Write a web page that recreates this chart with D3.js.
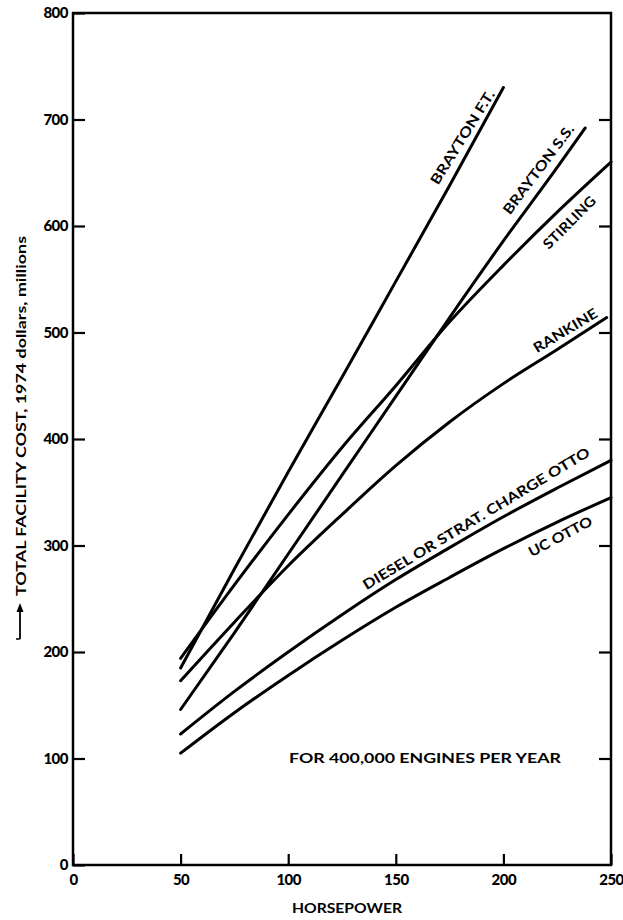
<!DOCTYPE html>
<html><head><meta charset="utf-8">
<script src="https://cdn.jsdelivr.net/npm/d3@7"></script>
<style>body{margin:0;background:#fff}</style>
</head><body>
<svg id="c" width="623" height="920"></svg>
<script>
// ---- data ----
const hpFull = [50, 75, 100, 125, 150, 175, 200, 225, 250];
const hpBraytonFT = [50, 75, 100, 125, 150, 175, 200];
const braytonFT = [185, 278, 369, 458, 548, 638, 730];
const hpBraytonSS = [50, 75, 100, 125, 150, 175, 200, 225, 238];
const braytonSS = [146, 218, 292, 366, 440, 514, 586, 655, 692];
const stirling = [194, 263, 329, 392, 450, 510, 563, 613, 660];
const hpRankine = [50, 75, 100, 125, 150, 175, 200, 225, 248];
const rankine = [173, 228, 281, 329, 375, 416, 452, 484, 514];
const diesel = [123, 163, 200, 235, 268, 298, 327, 354, 380];
const ucOtto = [105, 143, 178, 211, 242, 270, 297, 322, 345];
const seriesNames = ["BRAYTON F.T.", "BRAYTON S.S.", "STIRLING", "RANKINE", "DIESEL OR STRAT. CHARGE OTTO", "UC OTTO"];
const xTicks = [0, 50, 100, 150, 200, 250];
const yTicks = [0, 100, 200, 300, 400, 500, 600, 700, 800];
const xTitle = "HORSEPOWER";
const yTitle = "TOTAL FACILITY COST, 1974 dollars, millions";
const note = "FOR 400,000 ENGINES PER YEAR";

const series = [
  {name: seriesNames[0], hp: hpBraytonFT, v: braytonFT},
  {name: seriesNames[1], hp: hpBraytonSS, v: braytonSS},
  {name: seriesNames[2], hp: hpFull, v: stirling},
  {name: seriesNames[3], hp: hpRankine, v: rankine},
  {name: seriesNames[4], hp: hpFull, v: diesel},
  {name: seriesNames[5], hp: hpFull, v: ucOtto}
].map(s => ({name: s.name, pts: s.hp.map((h, i) => [h, s.v[i]])}));

// ---- layout ----
const L = 73, R = 611, T = 13, B = 865;
const FONT = "Lato, 'DejaVu Sans', sans-serif";
const svg = d3.select("#c");
const x = d3.scaleLinear().domain([0, 250]).range([L, R]);
const y = d3.scaleLinear().domain([0, 800]).range([B, T]);

// frame
svg.append("rect").attr("x", L).attr("y", T).attr("width", R - L).attr("height", B - T)
  .attr("fill", "none").attr("stroke", "#000").attr("stroke-width", 2.5);

function styleAxis(g) {
  g.select(".domain").remove();
  g.selectAll("line").attr("stroke", "#000").attr("stroke-width", 2.2);
  g.selectAll("text").attr("fill", "#000").style("font-family", FONT)
    .style("font-weight", "900").style("font-size", "15px").style("letter-spacing", "-0.5px");
}

svg.append("g").attr("transform", `translate(${L},0)`)
  .call(d3.axisLeft(y).tickValues(yTicks).tickSizeInner(-12).tickSizeOuter(0).tickPadding(5).tickFormat(d3.format("d")))
  .call(styleAxis);
svg.append("g").attr("transform", `translate(${R},0)`)
  .call(d3.axisRight(y).tickValues(yTicks.filter(d => d > 0 && d < 800)).tickSizeInner(-12).tickSizeOuter(0).tickFormat(""))
  .call(styleAxis);
svg.append("g").attr("transform", `translate(0,${B})`)
  .call(d3.axisBottom(x).tickValues(xTicks).tickSizeInner(-11).tickSizeOuter(0).tickPadding(9).tickFormat(d3.format("d")))
  .call(styleAxis);

// curves
const line = d3.line().x(d => x(d[0])).y(d => y(d[1])).curve(d3.curveMonotoneX);
svg.append("g").selectAll("path").data(series).join("path")
  .attr("d", d => line(d.pts)).attr("fill", "none").attr("stroke", "#000")
  .attr("stroke-width", 3).attr("stroke-linecap", "round");

// curve labels (pixel layout)
const labelLayout = [
  {cx: 462, cy: 137, a: -58, len: 108},
  {cx: 538, cy: 169, a: -53, len: 108},
  {cx: 569, cy: 222, a: -45, len: 68},
  {cx: 565, cy: 330, a: -31, len: 72},
  {cx: 476, cy: 518, a: -31, len: 262},
  {cx: 560, cy: 536, a: -28, len: 70}
];
svg.append("g").selectAll("text").data(series).join("text")
  .attr("transform", (d, i) => `translate(${labelLayout[i].cx},${labelLayout[i].cy}) rotate(${labelLayout[i].a})`)
  .attr("text-anchor", "middle").attr("dominant-baseline", "central")
  .attr("textLength", (d, i) => labelLayout[i].len).attr("lengthAdjust", "spacingAndGlyphs")
  .style("font-family", FONT).style("font-weight", "700").style("font-size", "14px")
  .text(d => d.name);

// note
svg.append("text").attr("x", 425).attr("y", 757).attr("text-anchor", "middle")
  .attr("dominant-baseline", "central").attr("textLength", 272).attr("lengthAdjust", "spacingAndGlyphs")
  .style("font-family", FONT).style("font-weight", "700").style("font-size", "14px").text(note);

// x title
svg.append("text").attr("x", 347).attr("y", 907).attr("text-anchor", "middle")
  .attr("dominant-baseline", "central").attr("textLength", 110).attr("lengthAdjust", "spacingAndGlyphs")
  .style("font-family", FONT).style("font-weight", "700").style("font-size", "14px").text(xTitle);

// y title with arrow
svg.append("text").attr("transform", "translate(20,416) rotate(-90)").attr("text-anchor", "middle")
  .attr("dominant-baseline", "central").attr("textLength", 360).attr("lengthAdjust", "spacingAndGlyphs")
  .style("font-family", FONT).style("font-weight", "700").style("font-size", "14px").text(yTitle);
svg.append("line").attr("x1", 20).attr("x2", 20).attr("y1", 639).attr("y2", 610)
  .attr("stroke", "#000").attr("stroke-width", 1.8);
svg.append("path").attr("d", "M20,603 L16.5,612 L23.5,612 Z").attr("fill", "#000");
svg.append("line").attr("x1", 16).attr("x2", 20).attr("y1", 639).attr("y2", 639)
  .attr("stroke", "#000").attr("stroke-width", 1.5);
</script>
</body></html>
